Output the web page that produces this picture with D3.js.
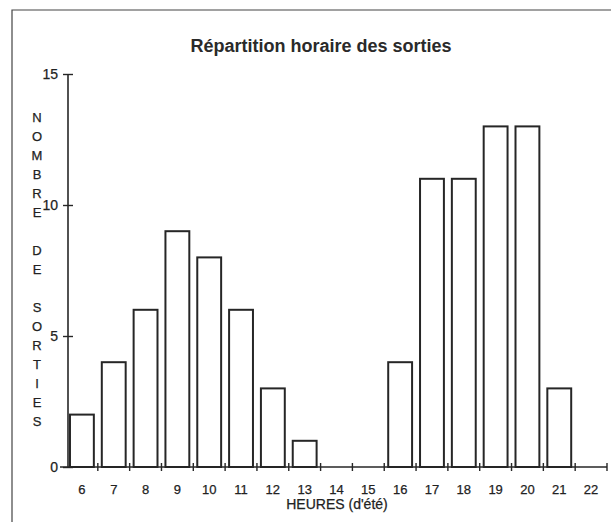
<!DOCTYPE html>
<html>
<head>
<meta charset="utf-8">
<script src="https://cdn.jsdelivr.net/npm/d3@7"></script>
<style>
  body { margin: 0; background: #fff; }
  svg { display: block; font-family: "Liberation Sans", Arial, sans-serif; }
  text { stroke: #222; stroke-width: 0.25px; }
</style>
</head>
<body>
<div id="chart"></div>
<script>
// data
var hours = [6, 7, 8, 9, 10, 11, 12, 13, 14, 15, 16, 17, 18, 19, 20, 21, 22]
var sorties = [2, 4, 6, 9, 8, 6, 3, 1, 0, 0, 4, 11, 11, 13, 13, 3, 0]
var y_ticks = [0, 5, 10, 15]
var title = "Répartition horaire des sorties"
var x_title = "HEURES (d'été)"
var y_title = ["N", "O", "M", "B", "R", "E", "", "D", "E", "", "S", "O", "R", "T", "I", "E", "S"]

var total_width = 611,
    total_height = 522,
    ink = "#262626"

var svg = d3.select("#chart").append("svg")
    .attr("width", total_width)
    .attr("height", total_height)

// frame of the scanned page
svg.append("path")
    .attr("d", "M12," + total_height + "V10H" + total_width)
    .attr("fill", "none")
    .attr("stroke", "#444")
    .attr("stroke-width", 1.2)

var x = d3.scaleBand()
    .domain(hours)
    .range([66, 607])
    .paddingInner(0.25)
    .paddingOuter(0.125)

var y = d3.scaleLinear()
    .domain([0, 15])
    .range([467, 74])

var half_gap = x.step() * x.paddingInner() / 2

// title
svg.append("text")
    .attr("x", 321)
    .attr("y", 52)
    .attr("text-anchor", "middle")
    .style("font-size", "18px")
    .style("font-weight", "bold")
    .style("stroke-width", "0px")
    .attr("fill", "#2a2a2a")
    .text(title)

// bars
svg.append("g")
    .selectAll("rect")
    .data(hours.map((h, i) => ({hour: h, value: sorties[i]})).filter(d => d.value > 0))
    .enter()
    .append("rect")
    .attr("x", d => x(d.hour))
    .attr("y", d => y(d.value))
    .attr("width", x.bandwidth())
    .attr("height", d => y(0) - y(d.value))
    .attr("fill", "#fff")
    .attr("stroke", ink)
    .attr("stroke-width", 2)

// y axis, ticks crossing the line
var y_axis = svg.append("g")
    .attr("transform", "translate(68,0)")
    .call(d3.axisLeft(y).tickValues(y_ticks).tickSize(5).tickPadding(5))
y_axis.select(".domain").remove()
y_axis.append("line")
    .attr("y1", y(15))
    .attr("y2", y(0))
    .attr("stroke", ink)
    .attr("stroke-width", 1.6)
y_axis.selectAll(".tick line")
    .attr("x1", -5)
    .attr("x2", 5)
    .attr("stroke", ink)
    .attr("stroke-width", 1.4)
y_axis.attr("font-family", null)
y_axis.selectAll(".tick text")
    .style("font-size", "14px")
    .attr("fill", "#222")

// x axis: labels at band centres, ticks at band edges
var x_axis = svg.append("g")
    .attr("transform", "translate(0," + y(0) + ")")
    .call(d3.axisBottom(x).tickSize(0).tickPadding(18))
x_axis.select(".domain").remove()
x_axis.attr("font-family", null)
x_axis.selectAll(".tick text")
    .style("font-size", "13px")
    .attr("fill", "#222")
x_axis.append("line")
    .attr("x1", 60)
    .attr("x2", 607)
    .attr("stroke", ink)
    .attr("stroke-width", 1.6)
x_axis.append("g")
    .selectAll("line")
    .data(hours)
    .enter()
    .append("line")
    .attr("x1", d => x(d) + x.bandwidth() + half_gap)
    .attr("x2", d => x(d) + x.bandwidth() + half_gap)
    .attr("y1", -4)
    .attr("y2", 4)
    .attr("stroke", ink)
    .attr("stroke-width", 1.4)

// axis titles
svg.append("text")
    .attr("x", 337)
    .attr("y", 509)
    .attr("text-anchor", "middle")
    .style("font-size", "14px")
    .attr("fill", "#222")
    .text(x_title)

svg.append("g")
    .selectAll("text")
    .data(y_title)
    .enter()
    .append("text")
    .attr("x", 37)
    .attr("y", (d, i) => 117 + i * 19.0)
    .attr("dy", "0.35em")
    .attr("text-anchor", "middle")
    .style("font-size", "13px")
    .attr("fill", "#222")
    .text(d => d)
</script>
</body>
</html>
